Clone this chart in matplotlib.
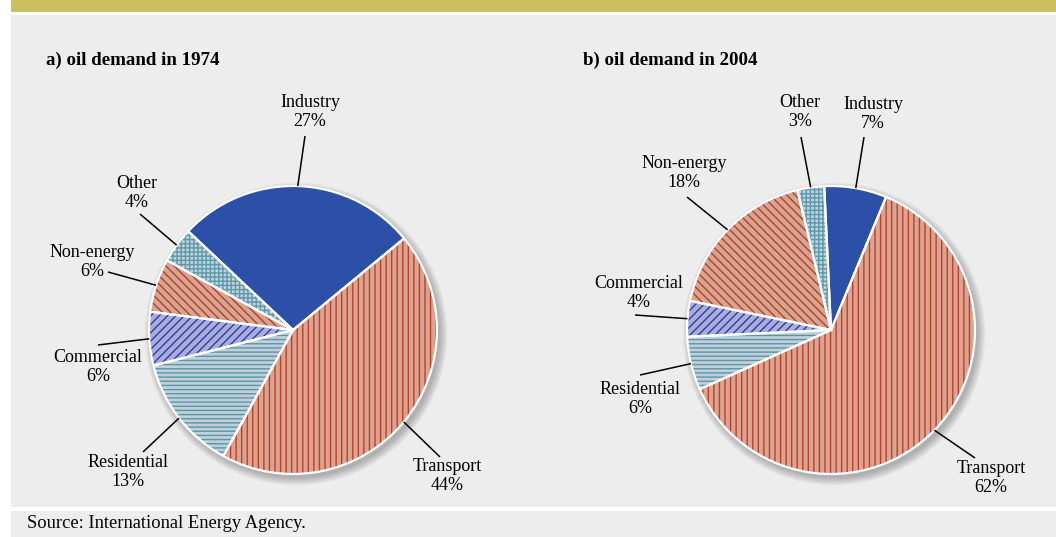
import numpy as np
import matplotlib
matplotlib.use("Agg")
import matplotlib.pyplot as plt
from matplotlib.patches import Rectangle, Wedge, Circle

# ---------------- data ----------------
categories = ["Industry", "Other", "Non-energy", "Commercial", "Residential", "Transport"]
share_1974 = [27, 4, 6, 6, 13, 44]
share_2004 = [7, 3, 18, 4, 6, 62]
titles = ["a) oil demand in 1974", "b) oil demand in 2004"]
source_note = "Source: International Energy Agency."

# ---------------- styles ----------------
face_colors = ["#2C4FA8", "#BFD3DD", "#DBA28E", "#A9ADDE", "#BED1DB", "#DCA48F"]
hatch_colors = ["#2C4FA8", "#5F98AA", "#A54534", "#2F3E9A", "#5E93A6", "#B8402E"]
hatches = [None, "++++", "\\\\\\\\", "////", "----", "|||"]

W, H = 1056, 537
SERIF = ["Liberation Serif", "DejaVu Serif"]
plt.rcParams["hatch.linewidth"] = 1.0

fig = plt.figure(figsize=(W / 100, H / 100), dpi=100)
fig.patch.set_facecolor("white")
ax = fig.add_axes([0, 0, 1, 1])


def Y(y):
    return H - y


# background panels
ax.add_patch(Rectangle((11, Y(12)), W - 11, 12, color="#CCBF60", lw=0, zorder=0))
ax.add_patch(Rectangle((11, Y(507)), W - 11, 507 - 15, color="#EDEDED", lw=0, zorder=0))
ax.add_patch(Rectangle((11, 0), W - 11, H - 510.5, color="#EDEDED", lw=0, zorder=0))

# layout: pie centre, radius, start angle, title x, label layout (text x, text y, line start x, line start y)
pies = [
    dict(values=share_1974, center=(293, 330), r=144, start=39.5, title_x=45.7,
         labels=[(310, 112, 305, 136), (137, 193, 140, 214), (92, 262, 108, 272),
                 (98, 367, 98, 345), (128, 472, 143, 452), (447, 476, 440, 457)]),
    dict(values=share_2004, center=(831, 330), r=144, start=67.5, title_x=583,
         labels=[(873, 114, 864, 137), (800, 112, 801, 137), (684, 173, 687, 197),
                 (639, 293, 635, 315), (640, 399, 640, 375), (991, 478, 975, 458)]),
]

for p, title in zip(pies, titles):
    cx, cy = p["center"][0], Y(p["center"][1])
    r = p["r"]
    # soft drop shadow
    for i in range(7):
        ax.add_patch(Circle((cx + 3, cy - 4), r + i * 1.2, color="black",
                            alpha=0.04, lw=0, zorder=0.5))
    wedges, _ = ax.pie(p["values"], colors=face_colors, startangle=p["start"],
                       counterclock=True, center=(cx, cy), radius=r,
                       wedgeprops=dict(linewidth=0), frame=True)
    for w, h, hc in zip(wedges, hatches, hatch_colors):
        w.set_edgecolor(hc)
        w.set_linewidth(0)
        if h:
            w.set_hatch(h)
        ax.add_patch(Wedge(w.center, w.r, w.theta1, w.theta2, fill=False,
                           ec="white", lw=1.6, zorder=2))
    for w, cat, val, (tx, ty, sx, sy) in zip(wedges, categories, p["values"], p["labels"]):
        th = np.deg2rad((w.theta1 + w.theta2) / 2)
        ex, ey = cx + r * np.cos(th), cy + r * np.sin(th)
        ax.plot([sx, ex], [Y(sy), ey], color="black", lw=1.1, zorder=3,
                solid_capstyle="butt")
        ax.text(tx, Y(ty), f"{cat}\n{val}%", ha="center", va="center",
                fontsize=13, family=SERIF, linespacing=1.2, zorder=4)
    ax.text(p["title_x"], Y(60), title, ha="left", va="center", fontsize=13.6,
            fontweight="bold", family=SERIF, zorder=4)

ax.text(27, Y(524), source_note, ha="left", va="center", fontsize=13.3,
        family=SERIF, zorder=4)

ax.set_xlim(0, W)
ax.set_ylim(0, H)
ax.set_aspect("auto")
ax.axis("off")

fig.savefig("out.png", dpi=100, facecolor="white")
